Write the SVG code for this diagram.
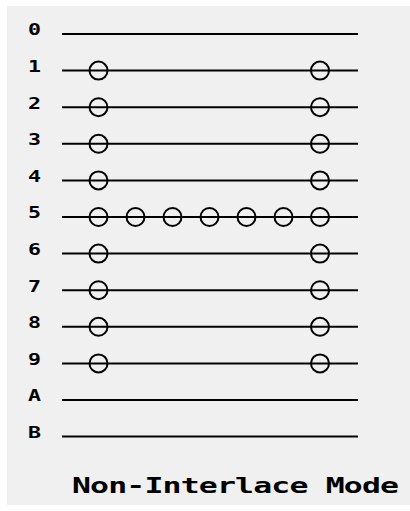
<svg xmlns="http://www.w3.org/2000/svg" width="410" height="511" viewBox="0 0 410 511">
<style>
.bg{fill:#f0f0f0}
.ln{stroke:#000;stroke-width:2;fill:none}
.c{stroke:#000;stroke-width:2;fill:none}
.lb{font-family:"DejaVu Sans Mono",monospace;font-weight:bold;font-size:16px;fill:#000}
.tt{font-family:"DejaVu Sans Mono",monospace;font-weight:bold;font-size:21px;fill:#000}
</style>
<rect class="bg" x="7" y="6" width="403" height="499"/>
<g id="labels" transform="scale(1.35,1)">
<text class="lb" x="20.7" y="35.5">0</text>
<text class="lb" x="20.7" y="72">1</text>
<text class="lb" x="20.7" y="108.6">2</text>
<text class="lb" x="20.7" y="145.2">3</text>
<text class="lb" x="20.7" y="181.8">4</text>
<text class="lb" x="20.7" y="218.4">5</text>
<text class="lb" x="20.7" y="255">6</text>
<text class="lb" x="20.7" y="291.6">7</text>
<text class="lb" x="20.7" y="328.2">8</text>
<text class="lb" x="20.7" y="364.8">9</text>
<text class="lb" x="20.7" y="401.4">A</text>
<text class="lb" x="20.7" y="438">B</text>
</g>
<g id="connectors">
<line class="ln" x1="62" y1="34" x2="358" y2="34"/>
<line class="ln" x1="62" y1="70.6" x2="358" y2="70.6"/>
<line class="ln" x1="62" y1="107.2" x2="358" y2="107.2"/>
<line class="ln" x1="62" y1="143.8" x2="358" y2="143.8"/>
<line class="ln" x1="62" y1="180.4" x2="358" y2="180.4"/>
<line class="ln" x1="62" y1="217" x2="358" y2="217"/>
<line class="ln" x1="62" y1="253.6" x2="358" y2="253.6"/>
<line class="ln" x1="62" y1="290.2" x2="358" y2="290.2"/>
<line class="ln" x1="62" y1="326.8" x2="358" y2="326.8"/>
<line class="ln" x1="62" y1="363.4" x2="358" y2="363.4"/>
<line class="ln" x1="62" y1="400" x2="358" y2="400"/>
<line class="ln" x1="62" y1="436.6" x2="358" y2="436.6"/>
</g>
<g id="nodes">
<circle class="c" cx="98.5" cy="70.6" r="9"/><circle class="c" cx="320" cy="70.6" r="9"/>
<circle class="c" cx="98.5" cy="107.2" r="9"/><circle class="c" cx="320" cy="107.2" r="9"/>
<circle class="c" cx="98.5" cy="143.8" r="9"/><circle class="c" cx="320" cy="143.8" r="9"/>
<circle class="c" cx="98.5" cy="180.4" r="9"/><circle class="c" cx="320" cy="180.4" r="9"/>
<circle class="c" cx="98.5" cy="217" r="9"/>
<circle class="c" cx="135.5" cy="217" r="9"/>
<circle class="c" cx="172.5" cy="217" r="9"/>
<circle class="c" cx="209.5" cy="217" r="9"/>
<circle class="c" cx="246.5" cy="217" r="9"/>
<circle class="c" cx="283.5" cy="217" r="9"/>
<circle class="c" cx="320" cy="217" r="9"/>
<circle class="c" cx="98.5" cy="253.6" r="9"/><circle class="c" cx="320" cy="253.6" r="9"/>
<circle class="c" cx="98.5" cy="290.2" r="9"/><circle class="c" cx="320" cy="290.2" r="9"/>
<circle class="c" cx="98.5" cy="326.8" r="9"/><circle class="c" cx="320" cy="326.8" r="9"/>
<circle class="c" cx="98.5" cy="363.4" r="9"/><circle class="c" cx="320" cy="363.4" r="9"/>
</g>
<g transform="scale(1.5,1)">
<text class="tt" x="48" y="493" textLength="218" lengthAdjust="spacing">Non-Interlace Mode</text>
</g>
</svg>
